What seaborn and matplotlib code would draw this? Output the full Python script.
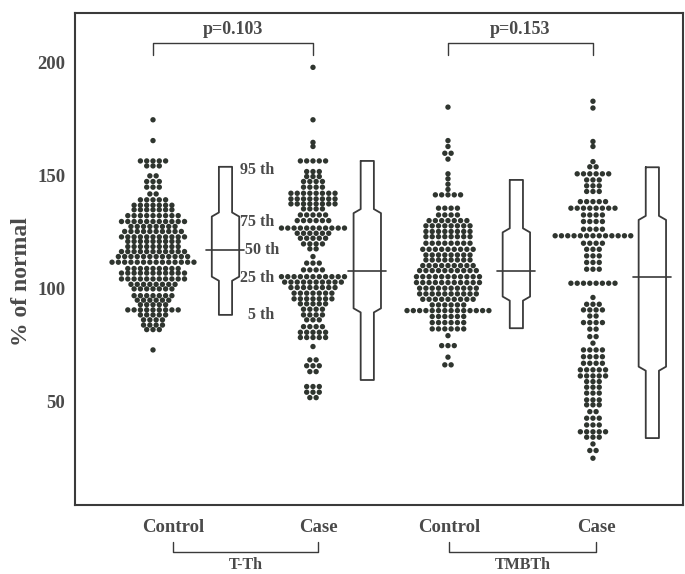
import numpy as np
import pandas as pd
import matplotlib
matplotlib.use("Agg")
import matplotlib.pyplot as plt
import seaborn as sns

# ---------------- data ----------------
groups = ["T-Th Control", "T-Th Case", "TMBTh Control", "TMBTh Case"]

ctrl1_levels = [174.8, 165.6, 156.6, 154.4, 150.0, 147.5, 145.0, 142.0, 139.4, 137.0, 135.0,
                132.4, 129.8, 127.6, 125.4, 123.0, 121.0, 118.7, 116.5, 114.3, 111.8, 109.0,
                107.0, 104.4, 102.0, 100.0, 97.0, 95.0, 93.0, 90.7, 88.5, 86.3, 84.0, 82.0, 73.0]
ctrl1_counts = [1, 1, 5, 3, 2, 3, 3, 2, 5, 7, 7, 9, 11, 8, 10, 11, 9, 9, 11, 12, 14, 9, 11, 11,
                8, 7, 7, 6, 5, 9, 5, 4, 4, 3, 1]

case1_levels = [198.0, 174.8, 164.8, 163.0, 156.6, 151.9, 149.7, 147.5, 145.0, 142.3, 139.8,
                137.6, 135.4, 132.7, 130.2, 126.9, 124.6, 122.4, 119.9, 117.7, 114.3, 111.4,
                108.4, 105.4, 103.0, 100.6, 98.1, 95.6, 93.4, 91.0, 88.5, 86.3, 83.3, 80.8,
                78.5, 74.5, 68.6, 66.0, 63.4, 56.8, 54.3, 51.9]
case1_counts = [1, 1, 1, 1, 5, 3, 3, 4, 4, 8, 8, 8, 4, 5, 6, 11, 6, 5, 4, 2, 1, 3, 4, 11, 10,
                8, 7, 7, 5, 4, 4, 3, 4, 5, 5, 1, 2, 3, 2, 3, 3, 2]

ctrl2_levels = [180.4, 165.6, 163.0, 160.0, 157.4, 150.9, 148.7, 146.3, 144.0, 141.6, 135.7,
                132.7, 130.2, 127.9, 125.4, 123.1, 120.2, 117.5, 115.0, 112.8, 110.3, 108.1,
                105.4, 102.8, 100.3, 97.8, 95.4, 92.9, 90.4, 87.8, 85.1, 82.3, 79.3, 74.9,
                69.8, 66.4]
ctrl2_counts = [1, 1, 1, 2, 1, 1, 1, 1, 1, 5, 4, 4, 7, 8, 8, 8, 8, 9, 8, 8, 9, 10, 11, 11, 10,
                10, 9, 6, 14, 6, 6, 6, 1, 3, 1, 2]

case2_levels = [183.0, 180.0, 165.2, 163.0, 156.3, 154.0, 150.9, 148.2, 145.6, 143.1, 138.6,
                135.7, 132.7, 129.8, 126.4, 123.5, 120.2, 117.5, 114.6, 111.7, 108.7, 102.5,
                96.2, 93.2, 90.7, 88.0, 85.1, 82.2, 78.9, 76.0, 73.0, 70.0, 67.1, 64.2, 61.5,
                59.0, 56.5, 53.9, 50.9, 48.7, 45.7, 42.8, 39.8, 36.8, 34.4, 31.4, 28.5, 25.1]
case2_counts = [1, 1, 1, 1, 1, 2, 6, 3, 3, 3, 5, 8, 4, 4, 4, 13, 4, 3, 3, 3, 3, 8, 1, 3, 4, 2,
                4, 2, 2, 1, 4, 4, 4, 5, 5, 3, 3, 3, 3, 3, 2, 3, 3, 5, 3, 1, 2, 1]

# percentile summaries (5th, 25th, 50th, 75th, 95th)
p5 = [88.5, 59.7, 82.6, 34.0]
p25 = [105.4, 91.4, 96.6, 65.6]
p50 = [117.0, 108.1, 108.1, 105.4]
p75 = [132.0, 133.5, 125.0, 130.5]
p95 = [154.0, 156.6, 148.2, 153.8]

pct_labels = ["5 th", "25 th", "50 th", "75 th", "95 th"]
x_labels = ["Control", "Case", "Control", "Case"]
pair_labels = ["T-Th", "TMBTh"]
p_values = ["p=0.103", "p=0.153"]
y_ticks = [50, 100, 150, 200]

# ---------------- layout helpers ----------------
dot_x = [0.78, 2.38, 3.73, 5.18]
box_x = [1.505, 2.923, 4.414, 5.774]
label_x = [0.98, 2.43, 3.74, 5.21]
dx = 0.063

rows = []
for g, lev, cnt in zip(groups,
                       [ctrl1_levels, case1_levels, ctrl2_levels, case2_levels],
                       [ctrl1_counts, case1_counts, ctrl2_counts, case2_counts]):
    for v, n in zip(lev, cnt):
        for k in range(n):
            rows.append({"group": g, "value": v, "k": k - (n - 1) / 2})
df = pd.DataFrame(rows)
gx = dict(zip(groups, dot_x))
df["x"] = df["group"].map(gx) + df["k"] * dx

# ---------------- figure ----------------
sns.set_style("white")
plt.rcParams["font.family"] = ["Liberation Serif", "DejaVu Serif"]
text_col = "#4a4a4a"
line_col = "#3a3a3a"

fig = plt.figure(figsize=(6.85, 5.74), dpi=100)
ax = fig.add_axes([0.1095, 0.1202, 0.8875, 0.857])

sns.scatterplot(data=df, x="x", y="value", ax=ax, s=15, color="#2f352f",
                edgecolor="none", linewidth=0, legend=False)

hn, hw, hm, sl = 0.066, 0.137, 0.19, 1.8
for i in range(4):
    c = box_x[i]
    xs = [c - hn, c + hn, c + hn, c + hw, c + hw, c + hn, c + hn, c - hn, c - hn, c - hw,
          c - hw, c - hn, c - hn]
    ys = [p95[i], p95[i], p75[i] + sl, p75[i], p25[i], p25[i] - sl, p5[i], p5[i],
          p25[i] - sl, p25[i], p75[i], p75[i] + sl, p95[i]]
    ax.plot(xs, ys, color=line_col, lw=1.3)
    ax.plot([c - hm, c + hm], [p50[i], p50[i]], color=line_col, lw=1.2)

# percentile labels next to first box
pv = [p5[0], p25[0], p50[0], p75[0], p95[0]]
pxoff = [0.23, 0.15, 0.20, 0.15, 0.15]
pyoff = [0.0, -0.6, 0.0, -2.2, -1.5]
for lab, v, xo, yo in zip(pct_labels, pv, pxoff, pyoff):
    ax.text(box_x[0] + xo, v + yo, lab, ha="left", va="center", fontsize=11.5,
            fontweight="bold", color=text_col)

ax.set_xlim(0, 6.08)
ax.set_ylim(4.4, 222)
ax.set_yticks(y_ticks)
ax.set_yticklabels([str(t) for t in y_ticks], fontsize=13.5, fontweight="bold", color=text_col)
ax.set_xticks([])
ax.tick_params(axis="y", direction="in", length=8.5, width=1.0, color=line_col, pad=7)
ax.set_xlabel("")
ax.set_ylabel("% of normal", fontsize=17, fontweight="bold", color=text_col)
ax.yaxis.set_label_coords(-0.07, 0.455)
for s in ax.spines.values():
    s.set_visible(True)
    s.set_color(line_col)
    s.set_linewidth(1.5)

# top p-value brackets
for j in range(2):
    a, b = dot_x[2 * j], dot_x[2 * j + 1]
    ytop, ydrop = 208.8, 203.5
    ax.plot([a, a, b, b], [ydrop, ytop, ytop, ydrop], color=line_col, lw=1.0)
    ax.text((a + b) / 2, 214.6, p_values[j], ha="center", va="center", fontsize=13,
            fontweight="bold", color=text_col)

# bottom labels and pair brackets (in axes-fraction y / data x)
trans = ax.get_xaxis_transform()
for i in range(4):
    ax.text(label_x[i], -0.045, x_labels[i], transform=trans, ha="center", va="center",
            fontsize=13.5, fontweight="bold", color=text_col, clip_on=False)
for j in range(2):
    a, b = label_x[2 * j] + 0.0, label_x[2 * j + 1] + 0.0
    ax.plot([a, a, b, b], [-0.076, -0.096, -0.096, -0.076], transform=trans,
            color=line_col, lw=1.0, clip_on=False)
    ax.text((a + b) / 2, -0.121, pair_labels[j], transform=trans, ha="center", va="center",
            fontsize=11.5, fontweight="bold", color=text_col, clip_on=False)

fig.savefig("out.png", dpi=100)
